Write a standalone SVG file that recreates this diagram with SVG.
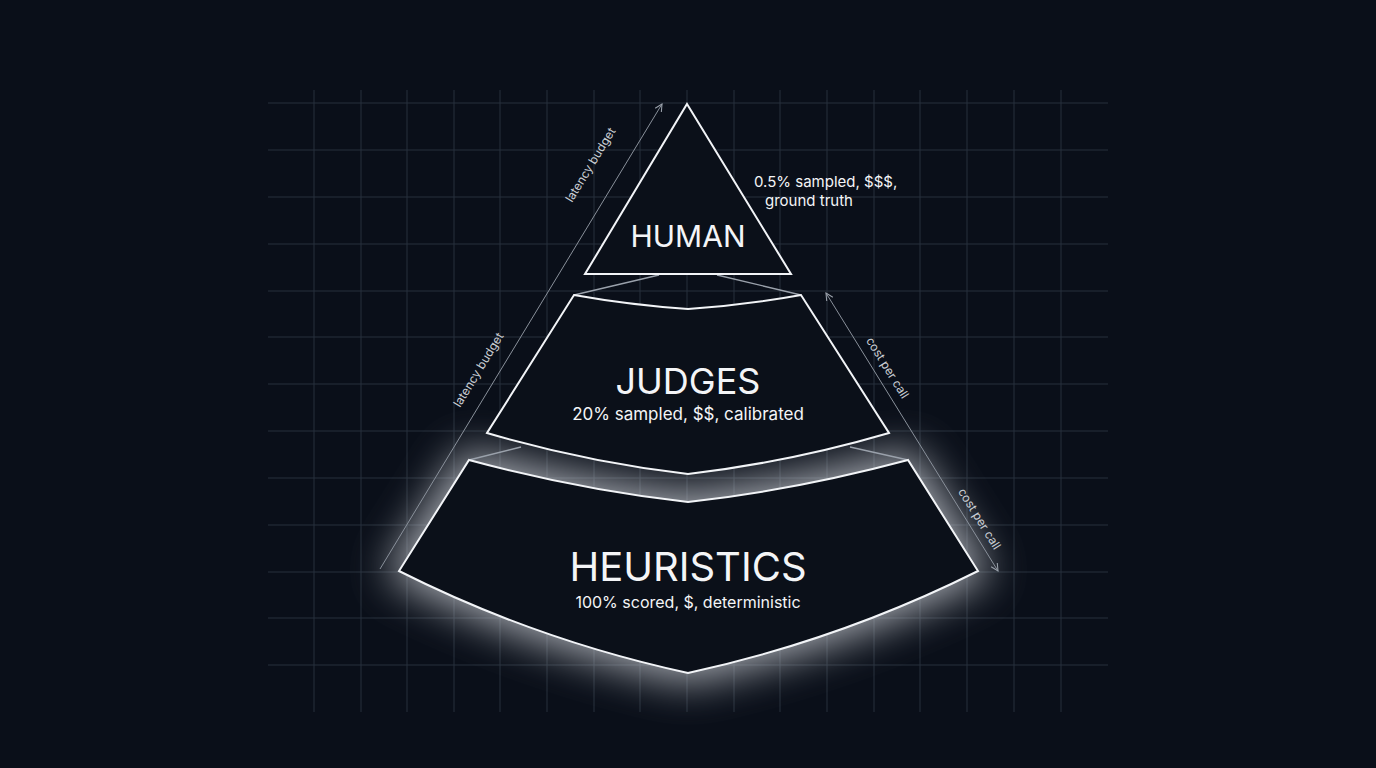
<svg xmlns="http://www.w3.org/2000/svg" width="1376" height="768" viewBox="0 0 1376 768">
<defs>
<style>
.grid{stroke:#27303d;stroke-width:1}
.tier{fill:#0b1019;stroke:#f2f4f7;stroke-width:2;stroke-linejoin:miter}
.link{stroke:#9aa1ab;stroke-width:1.3;fill:none}
.axis{stroke:#8a919b;stroke-width:1;fill:none}
.t{font-family:Inter,"Liberation Sans",sans-serif;fill:#f4f5f7;text-anchor:middle}
.lab{font-family:Inter,"Liberation Sans",sans-serif;fill:#c9cdd3;font-size:12px;text-anchor:middle}
</style>
<marker id="ah" viewBox="0 0 10 10" refX="9" refY="5" markerWidth="9" markerHeight="9" orient="auto-start-reverse" markerUnits="userSpaceOnUse"><path d="M1,1 L9,5 L1,9" fill="none" stroke="#9aa1ab" stroke-width="1.2"/></marker>
<filter id="glow" x="-40%" y="-50%" width="180%" height="200%"><feGaussianBlur stdDeviation="22"/></filter>
</defs>
<rect width="1376" height="768" fill="#0a0f19"/>
<g id="grid">
<path class="grid" d="M268 103H1108M268 150H1108M268 197H1108M268 244H1108M268 291H1108M268 337H1108M268 384H1108M268 431H1108M268 478H1108M268 525H1108M268 572H1108M268 618H1108M268 665H1108"/>
<path class="grid" d="M314 90V712M361 90V712M407 90V712M454 90V712M500 90V712M547 90V712M594 90V712M640 90V712M687 90V712M734 90V712M780 90V712M827 90V712M874 90V712M920 90V712M967 90V712M1014 90V712M1061 90V712"/>
</g>
<path d="M469 460 Q580 490 688 502 Q796 490 908 460 L978 571 Q840 640 688 673 Q536 640 399 571 Z" fill="#d0d4da" stroke="#d0d4da" stroke-width="18" filter="url(#glow)" opacity="0.8"/>
<g id="connectors">
<path class="link" d="M659 275L574 295M717 275L801 295M521 447L469 460M850 447L908 460"/>
<path class="axis" d="M380 569L662 104" marker-end="url(#ah)"/>
<path class="axis" d="M826 293L998 571" marker-start="url(#ah)" marker-end="url(#ah)"/>
<text class="lab" transform="translate(594,167) rotate(-58.6)">latency budget</text>
<text class="lab" transform="translate(482,372) rotate(-58.6)">latency budget</text>
<text class="lab" transform="translate(884,370) rotate(58.3)">cost per call</text>
<text class="lab" transform="translate(976,521) rotate(58.3)">cost per call</text>
</g>
<g id="human">
<path class="tier" d="M687 104L791 274H585Z"/>
<text class="t" x="688" y="247" font-size="30">HUMAN</text>
<text class="t" x="754" y="187" font-size="15" style="text-anchor:start">0.5% sampled, $$$,</text>
<text class="t" x="765" y="206" font-size="15" style="text-anchor:start">ground truth</text>
</g>
<g id="judges">
<path class="tier" d="M574 295Q630 305 688 309Q746 305 801 295L889 433Q790 462 688 474Q586 462 487 433Z"/>
<text class="t" x="688" y="394" font-size="36">JUDGES</text>
<text class="t" x="688" y="420" font-size="17">20% sampled, $$, calibrated</text>
</g>
<g id="heuristics">
<path class="tier" d="M469 460Q580 490 688 502Q796 490 908 460L978 571Q840 640 688 673Q536 640 399 571Z"/>
<text class="t" x="688" y="581" font-size="40">HEURISTICS</text>
<text class="t" x="688" y="608" font-size="16">100% scored, $, deterministic</text>
</g>
</svg>
